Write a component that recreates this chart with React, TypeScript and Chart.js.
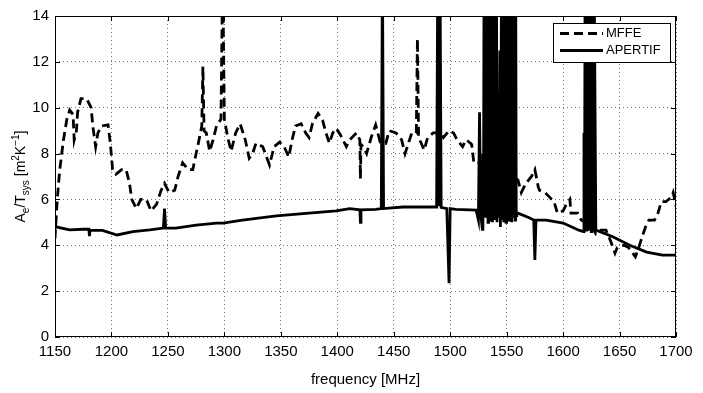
import React, { useEffect, useRef } from "react";
import { Chart, registerables } from "chart.js";

Chart.register(...registerables);

const xTicks = [1150, 1200, 1250, 1300, 1350, 1400, 1450, 1500, 1550, 1600, 1650, 1700];
const yTicks = [0, 2, 4, 6, 8, 10, 12, 14];

const mffeFreq = [
  1150, 1152, 1154, 1157.5, 1160.5, 1163, 1166, 1167, 1169, 1170, 1173, 1178, 1182, 1183.5, 1186, 1188, 1191, 1197, 1199,
  1201, 1204, 1209, 1213, 1216, 1218, 1222, 1226, 1231, 1235, 1240, 1244, 1247, 1251, 1256, 1259, 1263, 1268, 1272, 1275,
  1278, 1280, 1281, 1282, 1284, 1287, 1290, 1293, 1297, 1298.5, 1300, 1303, 1306, 1310, 1314, 1318.5, 1322, 1325, 1328,
  1334, 1340, 1344, 1349, 1353, 1357, 1360, 1363, 1368, 1372, 1375, 1378, 1383, 1387, 1390, 1393, 1396, 1399, 1403, 1408,
  1411, 1417, 1420, 1420.5, 1421, 1423, 1426, 1430, 1434, 1438, 1443, 1446, 1452, 1457, 1460, 1463, 1466, 1470, 1471, 1472,
  1473, 1477, 1480, 1485, 1489, 1490, 1491, 1494, 1499, 1503, 1506, 1511, 1514, 1518, 1519, 1520, 1521, 1525, 1535, 1545,
  1555, 1560, 1563, 1567, 1572, 1575, 1578, 1579, 1584, 1588, 1592, 1595, 1600, 1603, 1606, 1607, 1610, 1613, 1616, 1620,
  1626, 1629, 1633.5, 1638, 1642, 1646, 1648, 1654, 1658, 1664, 1667, 1670, 1673, 1676, 1681, 1684, 1687, 1691, 1696,
  1697.5, 1700,
];
const mffeVal = [
  4.3, 6.0, 7.2, 8.6, 9.5, 9.9, 9.7, 8.6, 9.0, 9.8, 10.4, 10.4, 10.0, 9.2, 8.3, 8.9, 9.2, 9.25, 8.45,
  7.3, 7.1, 7.3, 7.3, 6.7, 6.0, 5.6, 6.0, 6.0, 5.5, 5.8, 6.4, 6.7, 6.3, 6.4, 7.0, 7.6, 7.3, 7.3, 8.0,
  8.7, 9.2, 11.8, 9.0, 8.9, 8.1, 8.6, 9.2, 9.5, 16, 9.5, 8.7, 8.1, 8.9, 9.3, 8.6, 7.8, 8.0, 8.45,
  8.3, 7.5, 8.3, 8.5, 8.3, 7.85, 8.6, 9.2, 9.3, 8.9, 8.7, 9.3, 9.75, 9.45, 8.9, 8.45, 8.9, 9.1, 8.8, 8.3,
  8.6, 8.9, 8.6, 6.9, 8.4, 8.3, 8.0, 8.7, 9.25, 8.5, 8.45, 9.0, 8.9, 8.6, 8.0, 8.45, 8.9, 8.9, 13.0, 8.8,
  8.6, 8.15, 8.7, 8.9, 8.9, 16, 9.0, 8.7, 9.0, 8.9, 8.6, 8.3, 8.6, 8.45, 8.4, 8.0, 7.6, 7.6, 7.5, 7.2,
  7.0, 6.85, 6.3, 6.7, 7.0, 7.3, 6.55, 6.4, 6.3, 6.1, 5.9, 5.4, 5.5, 5.8, 6.0, 5.4, 5.4, 5.4, 5.1, 5.0,
  4.8, 4.5, 4.66, 4.66, 4.2, 3.66, 3.9, 4.0, 3.9, 3.5, 3.9, 4.37, 4.8, 5.1, 5.1, 5.4, 5.9, 5.9, 6.1,
  6.3, 5.7,
];

const apertifFreq = [
  1150, 1151, 1163, 1175, 1180, 1180.5, 1181, 1192, 1205, 1219, 1234, 1246, 1247, 1248, 1257, 1275, 1293, 1299, 1316, 1346,
  1375, 1399, 1411, 1420, 1420.5, 1421, 1434, 1439, 1440, 1441, 1458, 1488, 1489, 1490, 1491, 1492, 1497, 1499, 1500, 1505,
  1523, 1525, 1526, 1527, 1528.5, 1529, 1529.5,
  1530, 1530.5, 1531, 1531.5, 1532, 1532.5, 1533, 1533.5, 1534, 1534.5, 1535, 1535.5, 1536, 1536.5, 1537, 1537.5,
  1538, 1538.5, 1539, 1539.5, 1540, 1540.5, 1541, 1541.5, 1542.5, 1543, 1544, 1544.5, 1545.5, 1546,
  1547, 1547.5, 1548, 1548.5, 1549, 1549.5, 1550, 1550.5, 1551, 1551.5, 1552, 1552.5, 1553, 1553.5, 1554, 1554.5,
  1555, 1555.5, 1556, 1556.5, 1557, 1557.5, 1558, 1558.5, 1559, 1560, 1570, 1574, 1575, 1576, 1585, 1600, 1614, 1618,
  1618.5, 1619, 1619.5, 1620, 1620.5, 1621, 1621.5, 1622, 1622.5, 1623, 1623.5, 1624, 1624.5, 1625, 1625.5, 1626, 1626.5,
  1627, 1627.5, 1629, 1644, 1659, 1674, 1688, 1700,
];
const apertifVal = [
  5.0, 4.8, 4.67, 4.7, 4.7, 4.4, 4.65, 4.65, 4.45, 4.6, 4.67, 4.75, 5.6, 4.75, 4.75, 4.88, 4.97, 4.97, 5.1, 5.28,
  5.4, 5.5, 5.6, 5.55, 5.0, 5.55, 5.57, 5.6, 16, 5.6, 5.67, 5.67, 16, 5.7, 16, 5.65, 5.6, 2.35, 5.6, 5.57,
  5.53, 5.1, 9.8, 5.4, 4.7, 8.0, 5.2,
  16, 5.3, 16, 5.2, 16, 5.4, 16, 5.0, 16, 5.3, 16, 5.1, 16, 5.4, 16, 5.0,
  16, 5.3, 16, 5.1, 16, 5.2, 16, 5.0, 9.0, 5.2, 12.5, 4.8, 16, 5.1,
  8.5, 5.0, 16, 5.2, 16, 5.0, 16, 5.3, 16, 5.1, 16, 5.2, 16, 5.4, 16, 5.0,
  16, 5.2, 16, 5.3, 16, 5.1, 16, 5.3, 5.4, 5.4, 5.2, 5.1, 3.36, 5.1, 5.1, 4.97, 4.66, 4.6,
  8.9, 4.7, 16, 4.8, 16, 4.6, 16, 4.9, 16, 4.7, 16, 4.8, 16, 4.6, 16, 4.8, 16,
  4.7, 16, 4.66, 4.37, 4.0, 3.7, 3.57, 3.57,
];

const FONT = "'Liberation Sans', Arial, Helvetica, sans-serif";

const framePlugin = {
  id: "frame",
  afterDraw(chart: any) {
    const { ctx, chartArea } = chart;
    const { left, right, top, bottom } = chartArea;
    const xs = chart.scales.x;
    const ys = chart.scales.y;
    ctx.save();
    ctx.strokeStyle = "#000";
    ctx.lineWidth = 1;
    ctx.setLineDash([]);
    ctx.strokeRect(left + 0.5, top + 0.5, right - left - 1, bottom - top - 1);
    const tl = 5;
    ctx.beginPath();
    xTicks.forEach((v) => {
      const px = Math.round(xs.getPixelForValue(v)) + 0.5;
      ctx.moveTo(px, bottom);
      ctx.lineTo(px, bottom - tl);
      ctx.moveTo(px, top);
      ctx.lineTo(px, top + tl);
    });
    yTicks.forEach((v) => {
      const py = Math.round(ys.getPixelForValue(v)) + 0.5;
      ctx.moveTo(left, py);
      ctx.lineTo(left + tl, py);
      ctx.moveTo(right, py);
      ctx.lineTo(right - tl, py);
    });
    ctx.stroke();

    // legend
    const bx = 553, by = 23, bw = 117, bh = 39;
    ctx.fillStyle = "#fff";
    ctx.fillRect(bx, by, bw, bh);
    ctx.strokeRect(bx + 0.5, by + 0.5, bw, bh);
    ctx.lineWidth = 2.8;
    ctx.setLineDash([9, 5]);
    ctx.beginPath();
    ctx.moveTo(560, 33.5);
    ctx.lineTo(603, 33.5);
    ctx.stroke();
    ctx.setLineDash([]);
    ctx.beginPath();
    ctx.moveTo(560, 50.5);
    ctx.lineTo(603, 50.5);
    ctx.stroke();
    ctx.fillStyle = "#000";
    ctx.font = `13px ${FONT}`;
    ctx.textBaseline = "middle";
    ctx.textAlign = "left";
    ctx.fillText("MFFE", 606, 33);
    ctx.fillText("APERTIF", 606, 50);

    // y-axis title
    ctx.translate(20, (top + bottom) / 2);
    ctx.rotate(-Math.PI / 2);
    const parts: [string, string][] = [
      ["A", "n"], ["e", "sub"], ["/T", "n"], ["sys", "sub"], [" [m", "n"], ["2", "sup"], ["K", "n"], ["\u22121", "sup"], ["]", "n"],
    ];
    const big = `14px ${FONT}`;
    const small = `10px ${FONT}`;
    let total = 0;
    parts.forEach(([t, k]) => {
      ctx.font = k === "n" ? big : small;
      total += ctx.measureText(t).width;
    });
    let cx = -total / 2;
    ctx.textBaseline = "alphabetic";
    parts.forEach(([t, k]) => {
      ctx.font = k === "n" ? big : small;
      const dy = k === "sub" ? 4 : k === "sup" ? -6 : 0;
      ctx.fillText(t, cx, 5 + dy);
      cx += ctx.measureText(t).width;
    });
    ctx.restore();
  },
};

export default function App() {
  const ref = useRef<HTMLCanvasElement | null>(null);
  useEffect(() => {
    if (!ref.current) return;
    const chart = new Chart(ref.current, {
      type: "line",
      data: {
        datasets: [
          {
            label: "MFFE",
            data: mffeFreq.map((f, i) => ({ x: f, y: mffeVal[i] })),
            borderColor: "#000",
            borderWidth: 2.8,
            borderDash: [9, 5],
            pointRadius: 0,
            tension: 0,
            fill: false,
          },
          {
            label: "APERTIF",
            data: apertifFreq.map((f, i) => ({ x: f, y: apertifVal[i] })),
            borderColor: "#000",
            borderWidth: 2.8,
            pointRadius: 0,
            tension: 0,
            fill: false,
          },
        ],
      },
      options: {
        animation: false,
        responsive: false,
        maintainAspectRatio: false,
        layout: { padding: { top: 16, right: 27, left: 0, bottom: 0 } },
        plugins: { legend: { display: false }, tooltip: { enabled: false } },
        scales: {
          x: {
            type: "linear",
            min: 1150,
            max: 1700,
            afterBuildTicks: (s: any) => {
              s.ticks = xTicks.map((v) => ({ value: v }));
            },
            afterFit: (s: any) => {
              s.height = 56;
            },
            ticks: {
              color: "#000",
              font: { family: FONT, size: 15 },
              padding: 6,
              maxRotation: 0,
              autoSkip: false,
              callback: (v: any) => String(v),
            },
            grid: {
              color: "rgba(0,0,0,0.55)",
              lineWidth: 1,
              drawTicks: false,
            },
            border: { display: false, dash: [1, 3] },
            title: {
              display: true,
              text: "frequency [MHz]",
              color: "#000",
              font: { family: FONT, size: 15 },
              padding: { top: 5 },
            },
          },
          y: {
            min: 0,
            max: 14,
            afterBuildTicks: (s: any) => {
              s.ticks = yTicks.map((v) => ({ value: v }));
            },
            afterFit: (s: any) => {
              s.width = 55;
            },
            ticks: {
              color: "#000",
              font: { family: FONT, size: 15 },
              padding: 6,
              callback: (v: any) => String(v),
            },
            grid: {
              color: "rgba(0,0,0,0.55)",
              lineWidth: 1,
              drawTicks: false,
            },
            border: { display: false, dash: [1, 3] },
          },
        },
      },
      plugins: [framePlugin],
    } as any);
    return () => chart.destroy();
  }, []);
  return (
    <div style={{ position: "fixed", left: 0, top: 0, width: 703, height: 393, background: "#fff" }}>
      <canvas ref={ref} width={703} height={393} style={{ width: 703, height: 393 }} />
    </div>
  );
}
